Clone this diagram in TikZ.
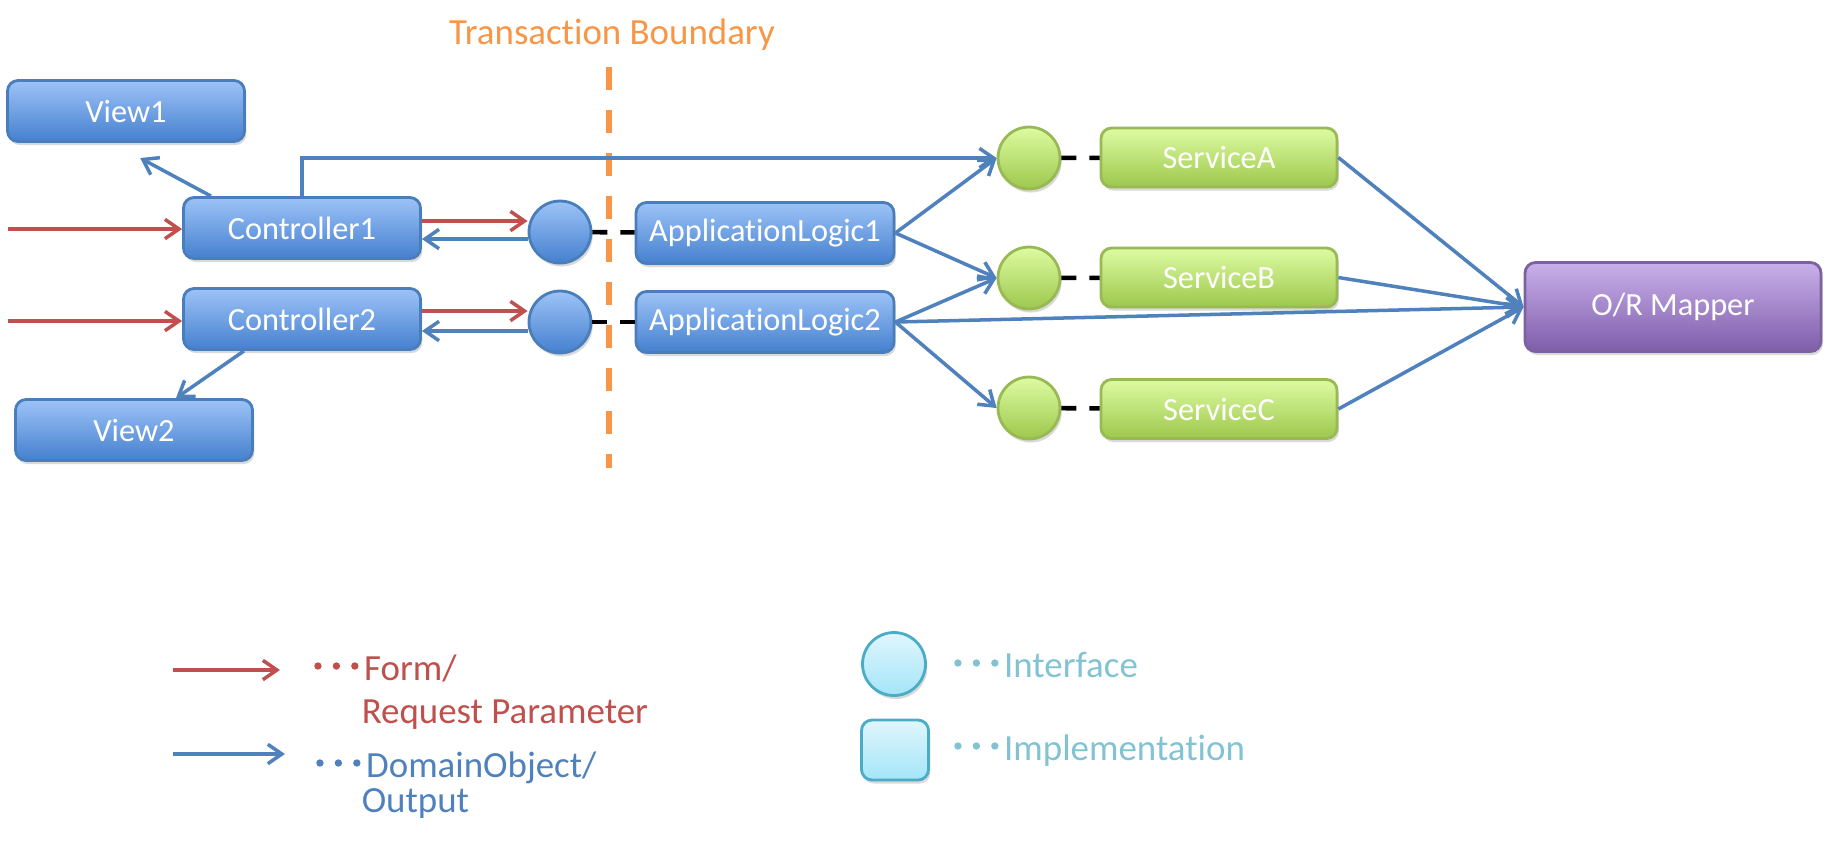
\documentclass[tikz,border=0pt]{standalone}
\usepackage{fontspec}
\setmainfont{Carlito}[Ligatures=NoCommon]
\newfontfamily\cjk[FakeBold=3]{Noto Sans CJK JP}
\usepackage{tikz}
\usetikzlibrary{arrows.meta, shadows}

\definecolor{lineblue}{HTML}{4F81BD}
\definecolor{linered}{HTML}{C0504D}
\definecolor{bndorange}{HTML}{F79646}
\definecolor{bluetop}{HTML}{9DC3F7}
\definecolor{bluebot}{HTML}{4580CF}
\definecolor{blueedge}{HTML}{4A7EBB}
\definecolor{greentop}{HTML}{DDFBA2}
\definecolor{greenbot}{HTML}{9DC84C}
\definecolor{greenedge}{HTML}{98B954}
\definecolor{purptop}{HTML}{C9B0EB}
\definecolor{purpbot}{HTML}{7F5DAA}
\definecolor{purpedge}{HTML}{7D62A0}
\definecolor{cyantop}{HTML}{E0F6FD}
\definecolor{cyanbot}{HTML}{A4E5F8}
\definecolor{cyanedge}{HTML}{4BACC6}
\definecolor{cyantext}{HTML}{82C3D3}

\newcommand{\tdots}{{\cjk ^^^^ff65^^^^ff65^^^^ff65}}

\begin{document}
\begin{tikzpicture}[line width=1pt, >={Straight Barb[length=4pt,width=5.5pt]},
    shd/.style={drop shadow={opacity=.3, shadow xshift=.5pt, shadow yshift=-1pt}},
    box/.style={shd, draw, line width=.8pt, rounded corners=3pt, inner sep=0pt, text=white,
        font=\fontsize{9.2}{11}\selectfont},
    bbox/.style={box, draw=blueedge, top color=bluetop, bottom color=bluebot,
        minimum width=2.37cm, minimum height=.61cm},
    gbox/.style={box, draw=greenedge, top color=greentop, bottom color=greenbot,
        minimum width=2.36cm, minimum height=.59cm},
    bif/.style={shd, circle, draw=blueedge, line width=.8pt, top color=bluetop, bottom color=bluebot,
        minimum size=.62cm, inner sep=0pt},
    gif/.style={shd, circle, draw=greenedge, line width=.8pt, top color=greentop, bottom color=greenbot,
        minimum size=.62cm, inner sep=0pt},
    legtxt/.style={anchor=base west, inner sep=0pt, font=\fontsize{10.5}{12}\selectfont},
    outarrow/.style={draw=lineblue, ->},
    reqarrow/.style={draw=linered, ->},
    impl/.style={black, line width=1.3pt, dash pattern=on .15cm off .13cm}]
    \useasboundingbox (0,0) rectangle (18.29,-8.53);

    \node[legtxt, anchor=center, text=bndorange] (title) at (6.12,-.35) {Transaction Boundary};
    \coordinate (bndtop) at (6.09,-.67);
    \coordinate (bndbot) at (6.09,-4.68);
    \draw[bndorange, line width=1.7pt, dash pattern=on .23cm off .20cm] (bndtop) -- (bndbot);

    \node[bbox] (view1) at (1.26,-1.11) {View1};
    \node[bbox] (ctrl1) at (3.02,-2.28) {Controller1};
    \node[bbox] (ctrl2) at (3.02,-3.19) {Controller2};
    \node[bbox] (view2) at (1.34,-4.30) {View2};
    \node[bif] (if1) at (5.60,-2.32) {};
    \node[bif] (if2) at (5.60,-3.22) {};
    \node[bbox, minimum width=2.58cm] (al1) at (7.65,-2.33) {ApplicationLogic1};
    \node[bbox, minimum width=2.58cm] (al2) at (7.65,-3.22) {ApplicationLogic2};
    \node[gif] (ifA) at (10.29,-1.58) {};
    \node[gif] (ifB) at (10.29,-2.78) {};
    \node[gif] (ifC) at (10.29,-4.08) {};
    \node[gbox] (svcA) at (12.19,-1.575) {ServiceA};
    \node[gbox] (svcB) at (12.19,-2.775) {ServiceB};
    \node[gbox] (svcC) at (12.19,-4.09) {ServiceC};
    \node[box, draw=purpedge, top color=purptop, bottom color=purpbot,
        minimum width=2.96cm, minimum height=.89cm] (orm) at (16.73,-3.07) {O/R Mapper};

    % requests in
    \coordinate (req1) at (.08,-2.29);
    \coordinate (req2) at (.08,-3.21);
    \draw[reqarrow] (req1) -- (ctrl1.west |- req1);
    \draw[reqarrow] (req2) -- (ctrl2.west |- req2);
    \draw[reqarrow] ([yshift=.07cm]ctrl1.east) -- ([yshift=.07cm]ctrl1.east -| if1.west);
    \draw[outarrow] ([yshift=-.11cm]ctrl1.east -| if1.west) -- ([yshift=-.11cm]ctrl1.east);
    \draw[reqarrow] ([yshift=.08cm]ctrl2.east) -- ([yshift=.08cm]ctrl2.east -| if2.west);
    \draw[outarrow] ([yshift=-.12cm]ctrl2.east -| if2.west) -- ([yshift=-.12cm]ctrl2.east);

    \draw[outarrow, shorten >=.32cm] ([xshift=-.91cm]ctrl1.north) -- ([xshift=-.14cm]view1.south);
    \draw[outarrow] ([xshift=-.58cm]ctrl2.south) -- ([xshift=.42cm]view2.north);
    \draw[outarrow] (ctrl1.north) |- (ifA.west);

    \draw[impl] (if1) -- (al1);
    \draw[impl] (if2) -- (al2);
    \draw[impl] (ifA) -- (svcA);
    \draw[impl] (ifB) -- (svcB);
    \draw[impl] (ifC) -- (svcC);

    \draw[outarrow] (al1.east) -- (ifA.west);
    \draw[outarrow] (al1.east) -- (ifB.west);
    \draw[outarrow] (al2.east) -- (ifB.west);
    \draw[outarrow] (al2.east) -- (ifC.west);
    \draw[outarrow] (al2.east) -- (orm.west);
    \draw[outarrow] (svcA.east) -- (orm.west);
    \draw[outarrow] (svcB.east) -- (orm.west);
    \draw[outarrow] (svcC.east) -- (orm.west);

    % legend
    \coordinate (lr0) at (1.73,-6.70);
    \coordinate (lr1) at (2.80,-6.70);
    \coordinate (lb0) at (1.73,-7.54);
    \coordinate (lb1) at (2.85,-7.54);
    \draw[reqarrow] (lr0) -- (lr1);
    \draw[outarrow] (lb0) -- (lb1);
    \node[legtxt, text=linered] (form) at (3.07,-6.80) {\tdots Form/};
    \node[legtxt, text=linered] (reqp) at (3.60,-7.23) {Request Parameter};
    \node[legtxt, text=lineblue] (dobj) at (3.09,-7.77) {\tdots DomainObject/};
    \node[legtxt, text=lineblue] (outp) at (3.60,-8.12) {Output};

    \node[shd, circle, draw=cyanedge, line width=.8pt, top color=cyantop, bottom color=cyanbot,
        minimum size=.63cm, inner sep=0pt] (legif) at (8.94,-6.64) {};
    \node[shd, draw=cyanedge, line width=.8pt, rounded corners=3pt, top color=cyantop,
        bottom color=cyanbot, minimum width=.67cm, minimum height=.60cm] (legimpl) at (8.95,-7.50) {};
    \node[legtxt, text=cyantext] (iftxt) at (9.47,-6.77) {\tdots Interface};
    \node[legtxt, text=cyantext] (impltxt) at (9.47,-7.60) {\tdots Implementation};
\end{tikzpicture}
\end{document}
